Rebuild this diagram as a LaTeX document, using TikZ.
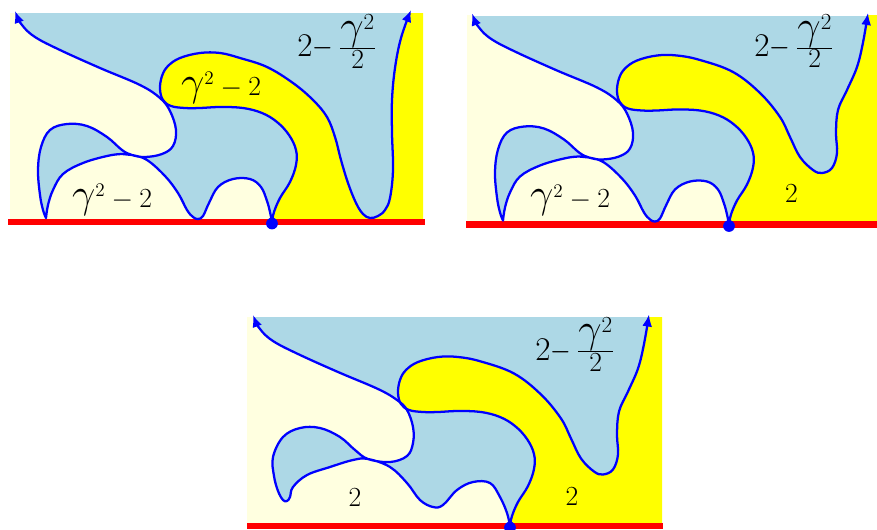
\documentclass[tikz,border=0pt]{standalone}
\usepackage{graphicx}
\usetikzlibrary{arrows.meta}
\definecolor{lb}{HTML}{ADD8E6}
\definecolor{cream}{HTML}{FFFFE0}
\definecolor{yel}{HTML}{FFFF00}
\definecolor{cblue}{HTML}{0000FF}
\definecolor{rline}{HTML}{FF0000}
\newcommand\Gm{\mbox{\scalebox{1.5}{$\gamma$}}}
\newcommand\Gms{\mbox{\scalebox{1.5}{$\scriptstyle\gamma$}}}
\newcommand\UpLab{$2\mathord{\scalebox{0.8}[1]{$-$}}\,\frac{\Gms^2}{2}$}
\tikzset{
  curve/.style={draw=cblue, line width=1.7pt, line join=round, line cap=round},
  redline/.style={draw=rline, line width=5.2pt},
  smo/.style={smooth, tension=0.62},
  labM/.style={font=\huge, inner sep=0pt, anchor=base},
  labL/.style={font=\Huge, inner sep=0pt, anchor=base},
  tipL/.style={{Latex[length=9pt,width=7.5pt]}-},
  tipR/.style={-{Latex[length=9pt,width=7.5pt]}},
}
% left branch, panels 1 and 2 (from the arrow to the point on the boundary)
\def\LOne{plot[smo] coordinates {(15,11) (22,25) (35,37) (60,50) (100,68) (140,85) (160,98) (170,111) (176,130) (173,146) (162,154) (145,157) (132,155) (122,150) (107,137) (87,126) (67,124) (50,130) (41,147) (38,170) (40,195) (43,210) (46,218)}
 -- plot[smo] coordinates {(46,218) (48,205) (53,190) (63,174) (83,163) (107,156) (122,154) (132,155) (147,160) (165,176) (178,193) (187,210) (193,217) (198,219) (203,216) (209,203) (218,187) (233,179) (250,179) (261,187) (267,201) (270,212) (272,222)}}
% right branch, panel 1
\def\ROne{plot[smo] coordinates {(272,222) (274,212) (280,198) (290,182) (296,165) (296,150) (289,135) (277,122) (262,113) (243,108) (220,107) (200,108) (185,108) (171,106) (163,100) (160,89) (162,76) (168,66) (180,58) (200,53) (220,53) (240,58) (267,67) (293,83) (313,100) (327,117) (335,137) (341,160) (348,183) (356,203) (363,214) (370,218) (378,216) (385,210) (390,198) (393,170) (392,133) (392,100) (395,68) (401,38) (411,10)}}
% right branch, panels 2 and 3
\def\RTwo{plot[smo] coordinates {(272,222) (274,212) (280,198) (290,182) (296,165) (296,150) (289,135) (277,122) (262,113) (243,108) (220,107) (200,108) (185,108) (171,106) (163,100) (160,89) (162,76) (168,66) (180,58) (200,53) (220,53) (243,57.5) (276,69.5) (303,90.5) (323,114.5) (333,134.5) (343,154.5) (356,167.5) (365,170.5) (375,165.5) (380,150.5) (379,130.5) (381,107.5) (390,87.5) (400,64.5) (406,40) (411,10.5)}}
% left branch, panel 3
\def\LThree{plot[smo] coordinates {(15,11) (22,25) (35,37) (60,50) (100,68) (140,85) (159,96) (169,106) (175,123) (175,139) (169,152) (152,158) (130,155) (117,146) (102,133) (82,124) (62,124) (45,133) (35,153) (36,172) (40,187) (45,196) (49,197) (52,193) (55,183) (69,171) (92,163) (115,156) (130,155) (152,163) (169,179) (182,196) (195,203) (205,201) (219,186) (235,178) (252,179) (262,193) (269,209) (272,222)}}
\begin{document}
\begin{tikzpicture}[x=0.75pt,y=-0.75pt]
\useasboundingbox (0,0) rectangle (877,529);
\clip (0,0) rectangle (877,529);
% ---------------- panel 1
\begin{scope}
  \begin{scope}
    \clip (10,13) rectangle (423,222);
    \fill[lb] (10,13) rectangle (423,222);
    \fill[cream] \LOne -- (5,230) -- (5,0) -- (15,0) -- cycle;
    \fill[yel] \ROne -- (430,0) -- (430,230) -- cycle;
  \end{scope}
  \draw[redline] (8,222) -- (425,222);
  \draw[curve,tipL] \LOne;
  \draw[curve,tipR] \ROne;
  \fill[cblue] (272,223.5) circle (4.4pt);
  \node[labM] (a1) at (112,207) {$\Gm^2-2$};
  \node[labM] (a2) at (221,95) {$\Gm^2-2$};
  \node[labL] (a3) at (337,56.7) {\UpLab};
\end{scope}
% ---------------- panel 2
\begin{scope}[shift={(457,2.5)}]
  \begin{scope}
    \clip (10,13) rectangle (423,222);
    \fill[lb] (10,13) rectangle (423,222);
    \fill[cream] \LOne -- (5,230) -- (5,0) -- (15,0) -- cycle;
    \fill[yel] \RTwo -- (430,0) -- (430,230) -- cycle;
  \end{scope}
  \draw[redline] (9,222) -- (425,222);
  \draw[curve,tipL] \LOne;
  \draw[curve,tipR] \RTwo;
  \fill[cblue] (272,223.5) circle (4.4pt);
  \node[labM] (b1) at (113,205) {$\Gm^2-2$};
  \node[labL] (b3) at (337,54) {\UpLab};
  \node[labM] (b2) at (334.5,199.5) {$2$};
\end{scope}
% ---------------- panel 3
\begin{scope}[shift={(238,304)}]
  \begin{scope}
    \clip (9,13) rectangle (424,222);
    \fill[lb] (9,13) rectangle (424,222);
    \fill[cream] \LThree -- (5,230) -- (5,0) -- (15,0) -- cycle;
    \fill[yel] \RTwo -- (430,0) -- (430,230) -- cycle;
  \end{scope}
  \draw[redline] (9,222) -- (425,222);
  \draw[curve,tipL] \LThree;
  \draw[curve,tipR] \RTwo;
  \fill[cblue] (272,223.5) circle (4.4pt);
  \node[labM] (c1) at (117,202) {$2$};
  \node[labM] (c2) at (334,201) {$2$};
  \node[labL] (c3) at (337,56) {\UpLab};
\end{scope}
\end{tikzpicture}
\end{document}
